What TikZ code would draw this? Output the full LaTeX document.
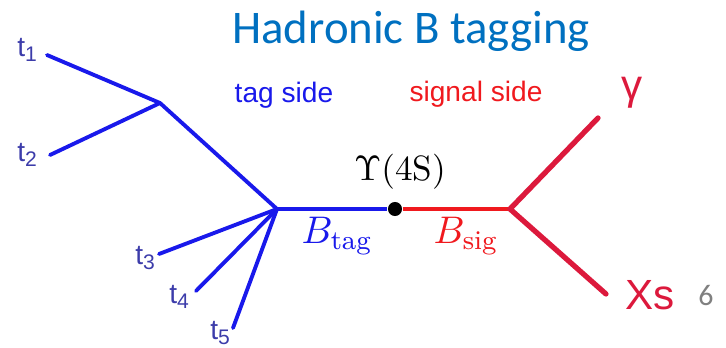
\documentclass[tikz,border=0pt]{standalone}
\usepackage{fontspec}
\setsansfont{Liberation Sans}
\newfontfamily\titlefont{Carlito}
\definecolor{titleblue}{RGB}{0,112,192}
\definecolor{tagblue}{RGB}{25,25,235}
\definecolor{labelblue}{RGB}{60,60,170}
\definecolor{sigred}{RGB}{240,25,30}
\definecolor{crimson}{RGB}{220,25,60}
\tikzset{
  tagline/.style={draw=tagblue, line width=1.1pt, line cap=round},
  sigline/.style={draw=crimson, line width=1.5pt, line cap=round},
  tlabel/.style={text=labelblue, font=\sffamily\fontsize{8}{9}\selectfont, inner sep=0pt}
}
\begin{document}
\begin{tikzpicture}[x=0.01cm, y=-0.01cm]
  \useasboundingbox (0,0) rectangle (726,348);
  % title
  \node[text=titleblue, font=\titlefont\fontsize{13.3}{15}\selectfont, anchor=base] (title) at (411,43) {Hadronic B tagging};
  % vertices
  \coordinate (v1) at (160,103);
  \coordinate (v2) at (277,209);
  \coordinate (vs) at (510,209);
  \node[circle, fill=black, inner sep=0pt, minimum size=4pt] (ups) at (395,209) {};
  % track ends
  \coordinate (e1) at (47,55);
  \coordinate (e2) at (50,155);
  \coordinate (e3) at (159,254);
  \coordinate (e4) at (196,291);
  \coordinate (e5) at (233,328);
  \coordinate (eg) at (598,118);
  \coordinate (ex) at (606,294);
  % tag side
  \draw[tagline] (e1) -- (v1); \draw[tagline] (e2) -- (v1);
  \draw[tagline] (v1) -- (v2);
  \draw[tagline] (e3) -- (v2); \draw[tagline] (e4) -- (v2); \draw[tagline] (e5) -- (v2);
  \draw[draw=tagblue, line width=1.4pt] (v2) -- (ups);
  % signal side
  \draw[draw=sigred, line width=1.3pt] (ups) -- (vs);
  \draw[sigline] (vs) -- (eg); \draw[sigline] (vs) -- (ex);
  % labels
  \node[tlabel] (t1) at (28,50) {t\textsubscript{1}};
  \node[tlabel] (t2) at (28,155) {t\textsubscript{2}};
  \node[tlabel] (t3) at (146,258) {t\textsubscript{3}};
  \node[tlabel] (t4) at (180,297) {t\textsubscript{4}};
  \node[tlabel] (t5) at (221,333) {t\textsubscript{5}};
  \node[text=tagblue, font=\sffamily\fontsize{8}{9}\selectfont] (tagside) at (284,95) {tag side};
  \node[text=sigred, font=\sffamily\fontsize{8}{9}\selectfont] (sigside) at (476,94) {signal side};
  \node[font=\fontsize{10}{12}\selectfont] (upslabel) at (400,172) {$\Upsilon(4\mathrm{S})$};
  \node[text=tagblue, font=\fontsize{11}{13}\selectfont] (btag) at (337,236) {$B_{\mathrm{tag}}$};
  \node[text=sigred, font=\fontsize{11}{13}\selectfont] (bsig) at (466,236) {$B_{\mathrm{sig}}$};
  \node[text=crimson, font=\sffamily\fontsize{12}{14}\selectfont] (gamma) at (632,93) {γ};
  \node[text=crimson, font=\sffamily\fontsize{12}{14}\selectfont] (xs) at (650,295) {Xs};
  \node[text=gray, font=\titlefont\fontsize{8.5}{10}\selectfont] (page) at (706,296) {6};
\end{tikzpicture}
\end{document}
